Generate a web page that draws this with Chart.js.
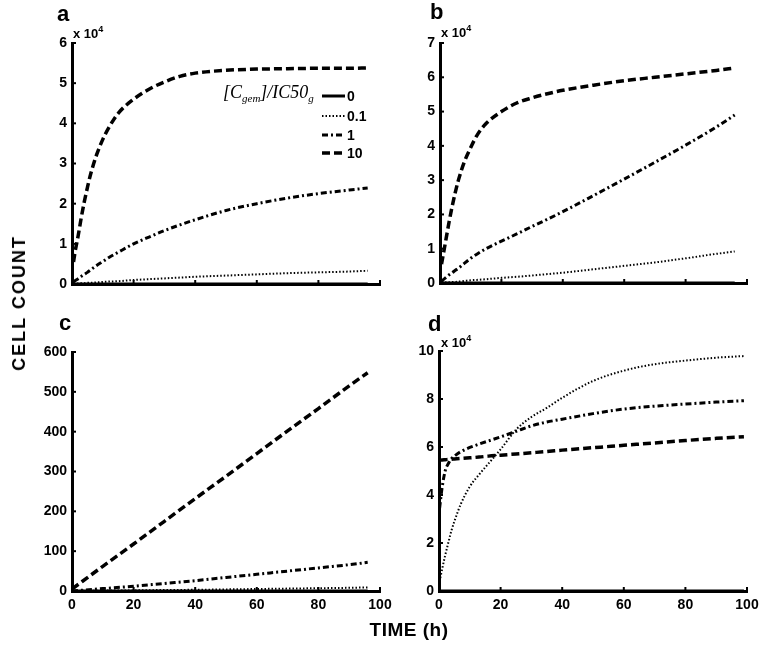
<!DOCTYPE html>
<html>
<head>
<meta charset="utf-8">
<script src="https://cdn.jsdelivr.net/npm/chart.js@4.4.1/dist/chart.umd.min.js"></script>
<style>
  body { margin:0; background:#fff; width:769px; height:646px; position:relative; overflow:hidden;
         font-family:"Liberation Sans", Arial, sans-serif; color:#000; }
  canvas { position:absolute; }
  .lbl { position:absolute; font-weight:bold; line-height:1; white-space:nowrap; }
  .letter { font-size:22px; }
  .mult { font-size:13px; }
  .mult span { font-size:9px; position:relative; top:-6px; }
  #legTitle { position:absolute; left:223px; top:83px; font-family:"Liberation Serif", serif; font-style:italic;
              font-size:18px; line-height:1; white-space:nowrap; }
  #legTitle span { font-size:11px; position:relative; top:4px; }
</style>
</head>
<body>
<canvas id="chartA" width="400" height="300" style="left:0;top:0"></canvas>
<canvas id="chartB" width="384" height="300" style="left:385px;top:0"></canvas>
<canvas id="chartC" width="400" height="346" style="left:0;top:300px"></canvas>
<canvas id="chartD" width="384" height="346" style="left:385px;top:300px"></canvas>

<div class="lbl letter" style="left:57px;top:3px">a</div>
<div class="lbl letter" style="left:430px;top:1px">b</div>
<div class="lbl letter" style="left:59px;top:312px">c</div>
<div class="lbl letter" style="left:428px;top:313px">d</div>

<div class="lbl mult" style="left:73px;top:27px">x 10<span>4</span></div>
<div class="lbl mult" style="left:441px;top:26px">x 10<span>4</span></div>
<div class="lbl mult" style="left:441px;top:336px">x 10<span>4</span></div>

<div id="legTitle">[C<span>gem</span>]/IC50<span>g</span></div>

<div class="lbl" style="left:19px;top:303px;font-size:18px;letter-spacing:2px;transform:translate(-50%,-50%) rotate(-90deg)">CELL COUNT</div>
<div class="lbl" style="left:409px;top:629px;font-size:19px;letter-spacing:0.5px;transform:translate(-50%,-50%)">TIME (h)</div>

<script>
    // time points (h) and cell counts
    // panels a, b and d are in units of 10^4 cells
    const timeAB = [0.5, 1, 2, 3, 4, 5, 6, 8, 10, 12, 15, 20, 25, 30, 35, 40, 50, 60, 70, 80, 90, 96];
    const a0  = [0, 0, 0, 0, 0, 0, 0, 0, 0, 0, 0, 0, 0, 0, 0, 0, 0, 0, 0, 0, 0, 0];
    const a01 = [0, 0.01, 0.01, 0.02, 0.02, 0.03, 0.03, 0.04, 0.05, 0.06, 0.07, 0.1, 0.12, 0.14, 0.16, 0.18, 0.21, 0.24, 0.27, 0.29, 0.31, 0.33];
    const a1  = [0.05, 0.08, 0.13, 0.19, 0.24, 0.29, 0.35, 0.46, 0.56, 0.66, 0.79, 1.0, 1.17, 1.33, 1.47, 1.6, 1.83, 2.0, 2.14, 2.25, 2.34, 2.39];
    const a10 = [0.55, 0.8, 1.2, 1.65, 2.05, 2.4, 2.72, 3.22, 3.6, 3.9, 4.25, 4.6, 4.85, 5.03, 5.17, 5.25, 5.32, 5.35, 5.36, 5.37, 5.37, 5.38];

    const b0  = [0, 0, 0, 0, 0, 0, 0, 0, 0, 0, 0, 0, 0, 0, 0, 0, 0, 0, 0, 0, 0, 0];
    const b01 = [0, 0.01, 0.02, 0.02, 0.03, 0.03, 0.04, 0.06, 0.08, 0.09, 0.11, 0.15, 0.18, 0.22, 0.26, 0.3, 0.4, 0.5, 0.6, 0.72, 0.85, 0.92];
    const b1  = [0.05, 0.09, 0.17, 0.24, 0.3, 0.37, 0.43, 0.58, 0.72, 0.84, 1.0, 1.22, 1.43, 1.65, 1.86, 2.08, 2.55, 3.03, 3.52, 4.02, 4.55, 4.9];
    const b10 = [0.55, 0.8, 1.3, 1.8, 2.25, 2.65, 3.0, 3.55, 3.95, 4.3, 4.65, 5.0, 5.25, 5.4, 5.52, 5.62, 5.77, 5.9, 6.0, 6.1, 6.2, 6.27];

    const timeC = [0, 10, 20, 30, 40, 50, 60, 70, 80, 90, 96];
    const c0  = [0, 0, 0, 0, 0, 0, 0, 0, 0, 0, 0];
    const c01 = [0, 1, 1.5, 2.5, 3, 4, 5, 6, 7, 8, 9];
    const c1  = [0, 6, 12, 19, 26, 34, 42, 50, 58, 66, 72];
    const c10 = [5, 62, 118, 175, 232, 288, 345, 402, 458, 515, 548];

    const timeD = [0.2, 1, 2, 3, 4, 5, 7, 10, 13, 16, 20, 25, 30, 35, 40, 50, 60, 70, 80, 90, 99];
    const d0  = [0, 0, 0, 0, 0, 0, 0, 0, 0, 0, 0, 0, 0, 0, 0, 0, 0, 0, 0, 0, 0];
    const d01 = [0.4, 0.9, 1.48, 2.0, 2.5, 2.9, 3.6, 4.35, 4.85, 5.3, 5.9, 6.72, 7.25, 7.63, 8.05, 8.75, 9.18, 9.45, 9.6, 9.72, 9.79];
    const d1  = [3.46, 4.3, 5.0, 5.3, 5.5, 5.62, 5.8, 5.98, 6.12, 6.25, 6.42, 6.65, 6.88, 7.04, 7.16, 7.39, 7.58, 7.7, 7.79, 7.87, 7.93];
    const d10 = [5.45, 5.46, 5.47, 5.48, 5.49, 5.5, 5.52, 5.55, 5.58, 5.62, 5.66, 5.71, 5.76, 5.81, 5.87, 5.97, 6.07, 6.17, 6.27, 6.36, 6.43];

    const xTicks = [0, 20, 40, 60, 80, 100];
    const doseLabels = ['0', '0.1', '1', '10'];

    Chart.defaults.font.family = '"Liberation Sans", Arial, sans-serif';
    Chart.defaults.font.size = 14;
    Chart.defaults.font.weight = 'bold';
    Chart.defaults.color = '#000';

    // line look for each dose
    const lineStyles = {
        '0':   { borderDash: [], borderWidth: 3 },
        '0.1': { borderDash: [1.5, 2], borderWidth: 2 },
        '1':   { borderDash: [6, 3, 2, 3], borderWidth: 3 },
        '10':  { borderDash: [8, 4], borderWidth: 3.5 }
    };

    function series(label, times, values) {
        return Object.assign({
            label: label,
            data: times.map((t, i) => ({ x: t, y: values[i] })),
            borderColor: '#000',
            pointRadius: 0,
            fill: false,
            cubicInterpolationMode: 'monotone',
            borderCapStyle: 'butt'
        }, lineStyles[label]);
    }

    // matlab style ticks pointing into the plot
    const inwardTicks = {
        id: 'inwardTicks',
        afterDatasetsDraw(chart) {
            const { ctx, chartArea } = chart;
            const x = chart.scales.x, y = chart.scales.y;
            ctx.save();
            ctx.strokeStyle = '#000';
            ctx.lineWidth = 2;
            x.ticks.forEach(t => {
                const px = x.getPixelForValue(t.value);
                ctx.beginPath();
                ctx.moveTo(px, chartArea.bottom);
                ctx.lineTo(px, chartArea.bottom - 4);
                ctx.stroke();
            });
            y.ticks.forEach(t => {
                const py = y.getPixelForValue(t.value);
                ctx.beginPath();
                ctx.moveTo(chartArea.left, py);
                ctx.lineTo(chartArea.left + 4, py);
                ctx.stroke();
            });
            ctx.restore();
        }
    };

    // legend samples in panel a (title is html because of the subscripts)
    const doseLegend = {
        id: 'doseLegend',
        afterDraw(chart) {
            const ctx = chart.ctx;
            const rows = [96, 116, 135, 153];
            ctx.save();
            ctx.strokeStyle = '#000';
            ctx.fillStyle = '#000';
            ctx.font = 'bold 14px "Liberation Sans", Arial, sans-serif';
            ctx.textBaseline = 'middle';
            doseLabels.forEach((lab, i) => {
                const ds = chart.data.datasets.find(d => d.label === lab);
                ctx.lineWidth = ds.borderWidth;
                ctx.setLineDash(ds.borderDash);
                ctx.beginPath();
                ctx.moveTo(322, rows[i]);
                ctx.lineTo(345, rows[i]);
                ctx.stroke();
                ctx.setLineDash([]);
                ctx.fillText(lab, 347, rows[i] + 1);
            });
            ctx.restore();
        }
    };

    function makePanel(id, pad, yMax, yStep, showX, datasets, extra) {
        return new Chart(document.getElementById(id), {
            type: 'line',
            data: { datasets: datasets },
            options: {
                responsive: false,
                animation: false,
                layout: { padding: pad },
                plugins: {
                    legend: { display: false },
                    tooltip: { enabled: false }
                },
                scales: {
                    x: {
                        type: 'linear', min: 0, max: 100,
                        afterBuildTicks: s => { s.ticks = xTicks.map(v => ({ value: v })); },
                        ticks: { display: showX, padding: 6 },
                        grid: { display: false, drawTicks: false },
                        border: { display: true, color: '#000', width: 3 },
                        afterFit: s => { s.height = showX ? 24 : 2; }
                    },
                    y: {
                        type: 'linear', min: 0, max: yMax,
                        ticks: { stepSize: yStep, padding: 5 },
                        grid: { display: false, drawTicks: false },
                        border: { display: true, color: '#000', width: 3 },
                        afterFit: s => { s.width = 40; }
                    }
                }
            },
            plugins: [inwardTicks].concat(extra || [])
        });
    }

    makePanel('chartA', { left: 32, top: 43, right: 20, bottom: 14 }, 6, 1, false, [
        series('0', timeAB, a0), series('0.1', timeAB, a01), series('1', timeAB, a1), series('10', timeAB, a10)
    ], [doseLegend]);

    makePanel('chartB', { left: 15, top: 43, right: 22, bottom: 15 }, 7, 1, false, [
        series('0', timeAB, b0), series('0.1', timeAB, b01), series('1', timeAB, b1), series('10', timeAB, b10)
    ]);

    makePanel('chartC', { left: 32, top: 52, right: 20, bottom: 31 }, 600, 100, true, [
        series('0', timeC, c0), series('0.1', timeC, c01), series('1', timeC, c1), series('10', timeC, c10)
    ]);

    makePanel('chartD', { left: 14, top: 51, right: 22, bottom: 31 }, 10, 2, true, [
        series('0', timeD, d0), series('0.1', timeD, d01), series('1', timeD, d1), series('10', timeD, d10)
    ]);
</script>
</body>
</html>
